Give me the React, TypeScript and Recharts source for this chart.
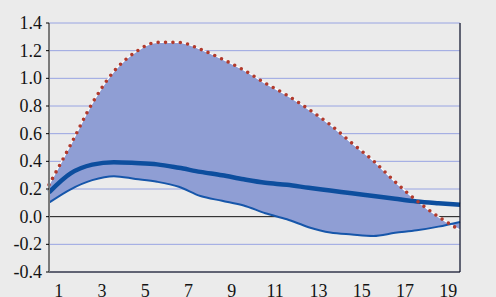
import React from "react";
import {
  ComposedChart, Area, Line, XAxis, YAxis, CartesianGrid,
} from "recharts";

// step edges (band boundaries) on the x axis
const STEP_EDGES = [0.5, 1.5, 2.5, 3.5, 4.5, 5.5, 6.5, 7.5, 8.5, 9.5, 10.5, 11.5, 12.5, 13.5, 14.5, 15.5, 16.5, 17.5, 18.5, 19.5];
const X_LABELS = [1, 3, 5, 7, 9, 11, 13, 15, 17, 19];
const Y_TICKS = [-0.4, -0.2, 0, 0.2, 0.4, 0.6, 0.8, 1.0, 1.2, 1.4];

// at each step edge
const UPPER = [0.23, 0.52, 0.82, 1.05, 1.19, 1.26, 1.26, 1.21, 1.14, 1.06, 0.965, 0.878, 0.777, 0.665, 0.532, 0.403, 0.252, 0.115, 0.0, -0.097];
const MID = [0.176, 0.313, 0.376, 0.394, 0.388, 0.378, 0.353, 0.324, 0.299, 0.27, 0.245, 0.23, 0.209, 0.189, 0.169, 0.149, 0.129, 0.11, 0.097, 0.086];
const LOWER = [0.101, 0.198, 0.264, 0.293, 0.273, 0.252, 0.216, 0.149, 0.115, 0.081, 0.025, -0.019, -0.076, -0.115, -0.129, -0.139, -0.117, -0.099, -0.072, -0.038];

const data = STEP_EDGES.map((x, i) => ({
  x,
  band: [LOWER[i], UPPER[i]],
  hi: UPPER[i],
  mid: MID[i],
  lo: LOWER[i],
}));

const GRID = "#98a4e2";
const BAND = "#8f9ed4";
const INK = "#141414";
const FONT = "Liberation Serif";

const LeftTick = (p: any) => (
  <text x={42} y={p.y} dy={6} textAnchor="end" fill={INK} fontFamily={FONT} fontSize={18}>
    {Number(p.payload.value).toFixed(1)}
  </text>
);

const RightTick = (p: any) => (
  <text x={496} y={p.y} dy={6} textAnchor="end" fill={INK} fontFamily={FONT} fontSize={18}>
    {Number(p.payload.value).toFixed(1)}
  </text>
);

const BottomTick = (p: any) => (
  <text x={p.x - 1} y={297} textAnchor="middle" fill={INK} fontFamily={FONT} fontSize={18}>
    {p.payload.value}
  </text>
);

// zero line is part of the grid so it stays under the band
const HLine = (p: any) => (
  <line x1={p.x1} y1={p.y1} x2={p.x2} y2={p.y2} stroke={p.index === 2 ? INK : GRID} strokeWidth={1} />
);

export default function App() {
  return (
    <div style={{ position: "absolute", left: 0, top: 0, width: 496, height: 297, background: "#ebebeb", overflow: "hidden" }}>
      <ComposedChart width={496} height={297} data={data} margin={{ top: 23, right: 0, left: 0, bottom: 0 }}>
        <CartesianGrid xAxisId="edge" yAxisId="l" stroke={GRID} strokeWidth={1} horizontal={HLine} />
        <XAxis
          xAxisId="edge" dataKey="x" type="number" domain={[0.5, 19.5]} ticks={STEP_EDGES}
          interval={0} tick={false} tickSize={7} height={8}
          axisLine={{ stroke: "#000" }} tickLine={{ stroke: "#000" }}
        />
        <XAxis
          xAxisId="lab" dataKey="x" type="number" domain={[0.5, 19.5]} ticks={X_LABELS}
          interval={0} axisLine={false} tickLine={false} height={17} tick={<BottomTick />}
        />
        <YAxis
          yAxisId="l" type="number" domain={[-0.4, 1.4]} ticks={Y_TICKS} interval={0} width={49}
          axisLine={{ stroke: "#7a7a7a", strokeWidth: 2 }} tickLine={{ stroke: "#000" }} tickSize={3}
          tick={<LeftTick />}
        />
        <YAxis
          yAxisId="r" orientation="right" type="number" domain={[-0.4, 1.4]} ticks={Y_TICKS} interval={0} width={36}
          axisLine={{ stroke: "#000" }} tickLine={false} tick={<RightTick />}
        />
        <Area
          xAxisId="edge" yAxisId="l" dataKey="band" type="monotone" fill={BAND} fillOpacity={1}
          stroke="none" isAnimationActive={false}
        />
        <Line xAxisId="edge" yAxisId="l" dataKey="hi" type="monotone" stroke="#ffffff" strokeWidth={1.2} dot={false} isAnimationActive={false} />
        <Line xAxisId="edge" yAxisId="l" dataKey="lo" type="monotone" stroke="#1656aa" strokeWidth={2} dot={false} isAnimationActive={false} />
        <Line xAxisId="edge" yAxisId="l" dataKey="mid" type="monotone" stroke="#0d4e9e" strokeWidth={4.5} dot={false} isAnimationActive={false} />
        <Line
          xAxisId="edge" yAxisId="l" dataKey="hi" type="monotone" stroke="#b23a2c" strokeWidth={3.6}
          strokeDasharray="0 7.4" strokeLinecap="round" dot={false} isAnimationActive={false}
        />
      </ComposedChart>
    </div>
  );
}
